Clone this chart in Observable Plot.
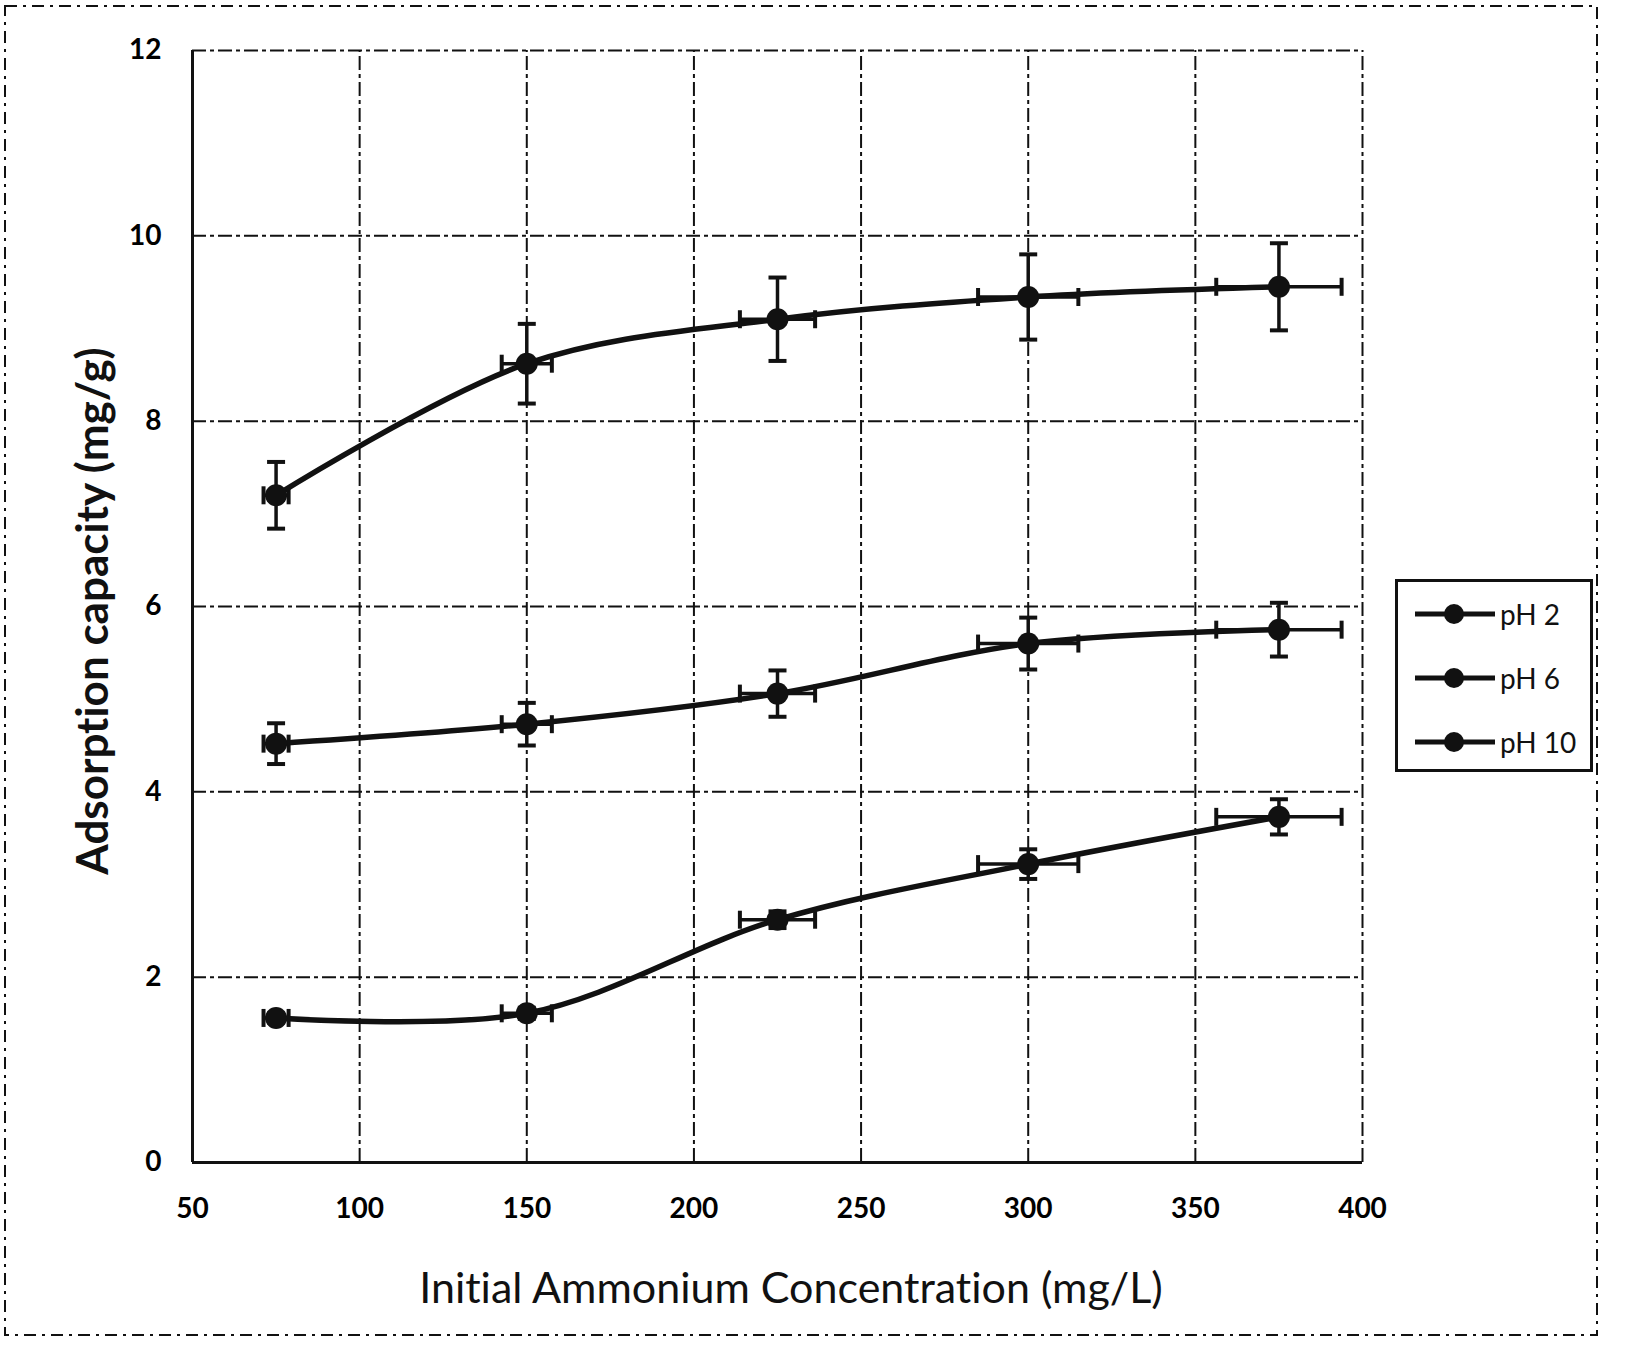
<!DOCTYPE html>
<html><head><meta charset="utf-8">
<script src="https://cdn.jsdelivr.net/npm/d3@7"></script>
<script src="https://cdn.jsdelivr.net/npm/@observablehq/plot@0.6"></script>
<style>
body{margin:0;background:#fff;}
#wrap{position:relative;width:1629px;height:1349px;overflow:hidden;background:#fff;font-family:Lato,"Open Sans",sans-serif;font-variant-ligatures:none;}
#wrap svg{position:absolute;left:0;top:0;}
.title{position:absolute;color:#111;white-space:nowrap;font-variant-ligatures:none;}
#ytitle{left:91px;top:611px;transform:translate(-50%,-50%) rotate(-90deg);font-size:44px;font-weight:700;}
#xtitle{left:791px;top:1286px;transform:translate(-50%,-50%);font-size:43px;font-weight:400;}
#legend{position:absolute;left:1395px;top:579px;width:192px;height:187px;border:3px solid #111;}
.lg{position:absolute;left:16px;height:40px;display:flex;align-items:center;font-size:28px;color:#111;}
.lg svg{position:static !important;}
</style></head><body><div id="wrap"></div>
<script>
const concentrations = [75, 150, 225, 300, 375];
const seriesNames = ["pH 2", "pH 6", "pH 10"];
const pH2 = [7.2, 8.62, 9.1, 9.34, 9.45];
const pH6 = [4.52, 4.73, 5.06, 5.6, 5.75];
const pH10 = [1.56, 1.61, 2.62, 3.22, 3.73];
const pH2Err = [0.36, 0.43, 0.45, 0.46, 0.47];
const pH6Err = [0.22, 0.23, 0.25, 0.28, 0.29];
const pH10Err = [0.05, 0.06, 0.09, 0.16, 0.19];
const concErr = [3.75, 7.5, 11.25, 15, 18.75];
const xTicks = [50, 100, 150, 200, 250, 300, 350, 400];
const yTicks = [0, 2, 4, 6, 8, 10, 12];
const xDomain = [50, 400];
const yDomain = [0, 12];

const values = [pH2, pH6, pH10];
const errs = [pH2Err, pH6Err, pH10Err];
const rows = [];
seriesNames.forEach((s, i) => concentrations.forEach((c, j) => rows.push({
  series: s, x: c, y: values[i][j], ey: errs[i][j], ex: concErr[j]
})));

const hCap = {draw(ctx, size){ const r = Math.sqrt(size / Math.PI); ctx.moveTo(-r, 0); ctx.lineTo(r, 0); }};
const vCap = {draw(ctx, size){ const r = Math.sqrt(size / Math.PI); ctx.moveTo(0, -r); ctx.lineTo(0, r); }};
const dash = "14,4,4,4";
const ink = "#111";

const chart = Plot.plot({
  width: 1629, height: 1349,
  marginLeft: 192, marginRight: 267, marginTop: 50, marginBottom: 187,
  x: {domain: xDomain, ticks: xTicks},
  y: {domain: yDomain, ticks: yTicks},
  style: {fontFamily: "Lato, 'Open Sans', sans-serif", background: "transparent", overflow: "visible"},
  marks: [
    Plot.ruleY(yTicks.filter(t => t > 0), {x1: xDomain[0], x2: xDomain[1], stroke: ink, strokeWidth: 2, strokeDasharray: dash}),
    Plot.ruleX(xTicks.filter(t => t > xDomain[0]), {y1: yDomain[0], y2: yDomain[1], stroke: ink, strokeWidth: 2, strokeDasharray: dash}),
    Plot.ruleX([xDomain[0]], {y1: yDomain[0], y2: yDomain[1], stroke: ink, strokeWidth: 3}),
    Plot.ruleY([yDomain[0]], {x1: xDomain[0], x2: xDomain[1], stroke: ink, strokeWidth: 3}),
    Plot.axisX(xTicks, {tickSize: 0, tickPadding: 36, fontSize: 28, fontWeight: "bold", label: null, tickFormat: d => String(d)}),
    Plot.axisY(yTicks, {tickSize: 0, tickPadding: 31, fontSize: 28, fontWeight: "bold", label: null, tickFormat: d => String(d)}),
    // error bars
    Plot.link(rows, {x1: "x", x2: "x", y1: d => d.y - d.ey, y2: d => d.y + d.ey, stroke: ink, strokeWidth: 3.5}),
    Plot.link(rows, {x1: d => d.x - d.ex, x2: d => d.x + d.ex, y1: "y", y2: "y", stroke: ink, strokeWidth: 3.5}),
    Plot.dot(rows, {x: "x", y: d => d.y + d.ey, symbol: hCap, r: 9, fill: "none", stroke: ink, strokeWidth: 4}),
    Plot.dot(rows, {x: "x", y: d => d.y - d.ey, symbol: hCap, r: 9, fill: "none", stroke: ink, strokeWidth: 4}),
    Plot.dot(rows, {x: d => d.x + d.ex, y: "y", symbol: vCap, r: 9, fill: "none", stroke: ink, strokeWidth: 4}),
    Plot.dot(rows, {x: d => d.x - d.ex, y: "y", symbol: vCap, r: 9, fill: "none", stroke: ink, strokeWidth: 4}),
    Plot.line(rows, {x: "x", y: "y", z: "series", curve: "catmull-rom", stroke: ink, strokeWidth: 5.5}),
    Plot.dot(rows, {x: "x", y: "y", r: 11, fill: ink, stroke: "none"})
  ]
});
const wrap = document.getElementById("wrap");
wrap.appendChild(chart);

// outer dashed frame
const ns = "http://www.w3.org/2000/svg";
const frame = document.createElementNS(ns, "svg");
frame.setAttribute("width", 1629); frame.setAttribute("height", 1349);
frame.style.pointerEvents = "none";
const rect = document.createElementNS(ns, "rect");
rect.setAttribute("x", 5); rect.setAttribute("y", 6); rect.setAttribute("width", 1592); rect.setAttribute("height", 1329);
rect.setAttribute("fill", "none"); rect.setAttribute("stroke", ink); rect.setAttribute("stroke-width", 2);
rect.setAttribute("stroke-dasharray", "12,6,3,6");
frame.appendChild(rect);
wrap.appendChild(frame);

const yt = document.createElement("div"); yt.id = "ytitle"; yt.className = "title";
yt.textContent = "Adsorption capacity (mg/g)"; wrap.appendChild(yt);
const xt = document.createElement("div"); xt.id = "xtitle"; xt.className = "title";
xt.textContent = "Initial Ammonium Concentration (mg/L)"; wrap.appendChild(xt);

const lg = document.createElement("div"); lg.id = "legend";
seriesNames.forEach((s, i) => {
  const e = document.createElement("div"); e.className = "lg";
  e.style.top = (12 + i * 64) + "px";
  e.innerHTML = `<svg width="82" height="24" style="margin-right:4px"><line x1="1" y1="12" x2="81" y2="12" stroke="${ink}" stroke-width="5"/><circle cx="40" cy="12" r="10" fill="${ink}"/></svg><span>${s}</span>`;
  lg.appendChild(e);
});
wrap.appendChild(lg);
</script></body></html>
